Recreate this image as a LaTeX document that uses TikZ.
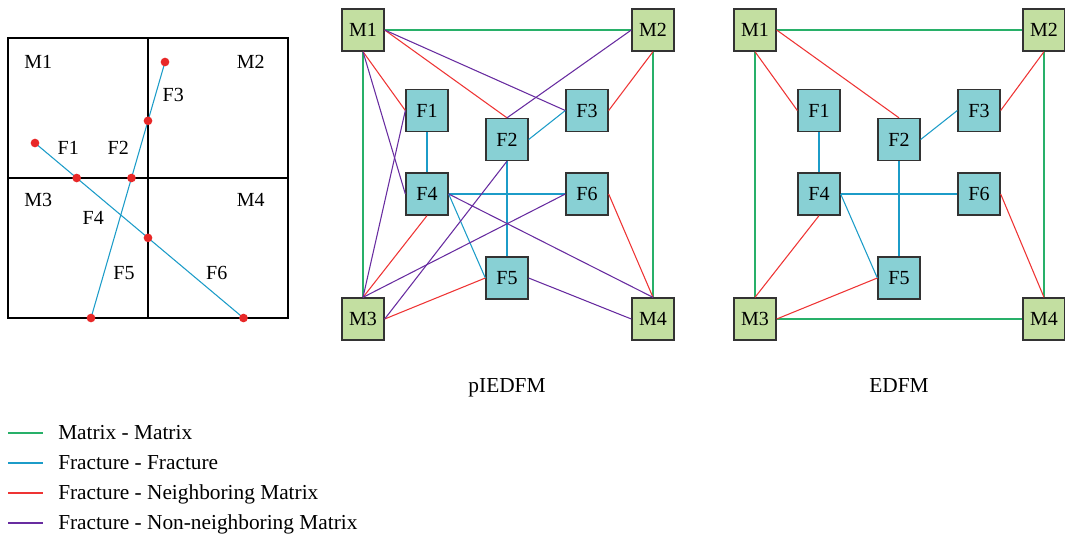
\documentclass[tikz,border=0pt]{standalone}
\usepackage{fontspec}
\setmainfont{Liberation Serif}
\definecolor{cgreen}{RGB}{40,176,105}
\definecolor{cblue}{RGB}{28,156,200}
\definecolor{cred}{RGB}{238,52,52}
\definecolor{cpurple}{RGB}{104,44,160}
\definecolor{mfill}{RGB}{195,223,161}
\definecolor{ffill}{RGB}{136,208,212}
\definecolor{cdot}{RGB}{232,40,40}
\begin{document}
\begin{tikzpicture}[x=0.75pt,y=-0.75pt,
  lbl/.style={font=\fontsize{15}{18}\selectfont},
  box/.style={draw=black!80,line width=1pt,minimum size=31.5pt,inner sep=0pt,font=\fontsize{15}{18}\selectfont},
  mbox/.style={box,fill=mfill},
  fbox/.style={box,fill=ffill},
  mm/.style={draw=cgreen,line width=0.8pt},
  ff/.style={draw=cblue,line width=0.8pt},
  fn/.style={draw=cred,line width=0.8pt},
  fnn/.style={draw=cpurple,line width=0.8pt},
  frac/.style={draw=cblue,line width=0.8pt},
  grid/.style={draw=black,line width=1pt},
  dot/.style={circle,fill=cdot,inner sep=0pt,minimum size=6.5pt},
  captext/.style={font=\fontsize{16}{19}\selectfont,anchor=base},
  leg/.style={font=\fontsize{16}{19}\selectfont,anchor=base west,inner sep=0pt},
  legline/.style={line width=1.6pt}]
\useasboundingbox (0,0) rectangle (1065,540);

% ---------- left sketch ----------
\draw[grid] (8,38) rectangle (288,318);
\draw[grid] (148,38) -- (148,318);
\draw[grid] (8,178) -- (288,178);
\coordinate (gl) at (8,178);
\coordinate (gr) at (288,178);
\coordinate (gt) at (148,38);
\coordinate (gb) at (148,318);
\coordinate (a1) at (35,143);
\coordinate (a2) at (243.5,318);
\coordinate (b1) at (165,62);
\coordinate (b2) at (91,318);
\draw[frac] (a1) -- (a2);
\draw[frac] (b1) -- (b2);
\coordinate (p1) at (intersection of a1--a2 and gl--gr);
\coordinate (p2) at (intersection of a1--a2 and gt--gb);
\coordinate (p3) at (intersection of b1--b2 and gl--gr);
\coordinate (p4) at (intersection of b1--b2 and gt--gb);
\foreach \p in {a1,a2,b1,b2,p1,p2,p3,p4} \node[dot] at (\p) {};
\node[lbl] (tM1) at (38.3,62.3) {M1};
\node[lbl] (tM2) at (250.7,62.3) {M2};
\node[lbl] (tM3) at (38.3,200) {M3};
\node[lbl] (tM4) at (250.7,200) {M4};
\node[lbl] (tF1) at (68.3,148.3) {F1};
\node[lbl] (tF2) at (118.3,148.3) {F2};
\node[lbl] (tF3) at (173.3,95) {F3};
\node[lbl] (tF4) at (93.3,218.3) {F4};
\node[lbl] (tF5) at (124,273.3) {F5};
\node[lbl] (tF6) at (216.7,273.3) {F6};

% ---------- pIEDFM ----------
\node[mbox] (M1) at (363,30) {M1};
\node[mbox] (M2) at (653,30) {M2};
\node[mbox] (M3) at (363,319) {M3};
\node[mbox] (M4) at (653,319) {M4};
\node[fbox] (F1) at (427,110.5) {F1};
\node[fbox] (F2) at (507,139.5) {F2};
\node[fbox] (F3) at (587,110.5) {F3};
\node[fbox] (F4) at (427,194) {F4};
\node[fbox] (F6) at (587,194) {F6};
\node[fbox] (F5) at (507,278) {F5};
\draw[mm] (M1.east) -- (M2.west);
\draw[mm] (M1.south) -- (M3.north);
\draw[mm] (M2.south) -- (M4.north);
\draw[ff] (F1.south) -- (F4.north);
\draw[ff] (F2.east) -- (F3.west);
\draw[ff] (F2.south) -- (F5.north);
\draw[ff] (F4.east) -- (F6.west);
\draw[ff] (F4.east) -- (F5.west);
\draw[fn] (M1.south) -- (F1.west);
\draw[fn] (M1.east) -- (F2.north);
\draw[fn] (M2.south) -- (F3.east);
\draw[fn] (M3.north) -- (F4.south);
\draw[fn] (M3.east) -- (F5.west);
\draw[fn] (M4.north) -- (F6.east);
\draw[fnn] (M1.south) -- (F4.west);
\draw[fnn] (M1.east) -- (F3.west);
\draw[fnn] (M2.west) -- (F2.north);
\draw[fnn] (M3.north) -- (F1.west);
\draw[fnn] (M3.east) -- (F2.south);
\draw[fnn] (M3.north) -- (F6.west);
\draw[fnn] (M4.north) -- (F4.east);
\draw[fnn] (M4.west) -- (F5.east);
\node[captext] (capA) at (507,392) {pIEDFM};

% ---------- EDFM ----------
\node[mbox] (N1) at (755,30) {M1};
\node[mbox] (N2) at (1044,30) {M2};
\node[mbox] (N3) at (755,319) {M3};
\node[mbox] (N4) at (1044,319) {M4};
\node[fbox] (G1) at (819,110.5) {F1};
\node[fbox] (G2) at (899,139.5) {F2};
\node[fbox] (G3) at (979,110.5) {F3};
\node[fbox] (G4) at (819,194) {F4};
\node[fbox] (G6) at (979,194) {F6};
\node[fbox] (G5) at (899,278) {F5};
\draw[mm] (N1.east) -- (N2.west);
\draw[mm] (N1.south) -- (N3.north);
\draw[mm] (N2.south) -- (N4.north);
\draw[mm] (N3.east) -- (N4.west);
\draw[ff] (G1.south) -- (G4.north);
\draw[ff] (G2.east) -- (G3.west);
\draw[ff] (G2.south) -- (G5.north);
\draw[ff] (G4.east) -- (G6.west);
\draw[ff] (G4.east) -- (G5.west);
\draw[fn] (N1.south) -- (G1.west);
\draw[fn] (N1.east) -- (G2.north);
\draw[fn] (N2.south) -- (G3.east);
\draw[fn] (N3.north) -- (G4.south);
\draw[fn] (N3.east) -- (G5.west);
\draw[fn] (N4.north) -- (G6.east);
\node[captext] (capB) at (899,392) {EDFM};

% ---------- legend ----------
\node[leg] (t1) at (58,439.5) {Matrix - Matrix};
\node[leg] (t2) at (58,469.5) {Fracture - Fracture};
\node[leg] (t3) at (58,499.5) {Fracture - Neighboring Matrix};
\node[leg] (t4) at (58,529.5) {Fracture - Non-neighboring Matrix};
\coordinate (ka) at (8,433);  \coordinate (kb) at (43,433);
\coordinate (kc) at (8,463);  \coordinate (kd) at (43,463);
\coordinate (ke) at (8,493);  \coordinate (kf) at (43,493);
\coordinate (kg) at (8,523);  \coordinate (kh) at (43,523);
\draw[legline,draw=cgreen] (ka) -- (kb);
\draw[legline,draw=cblue] (kc) -- (kd);
\draw[legline,draw=cred] (ke) -- (kf);
\draw[legline,draw=cpurple] (kg) -- (kh);
\end{tikzpicture}
\end{document}
